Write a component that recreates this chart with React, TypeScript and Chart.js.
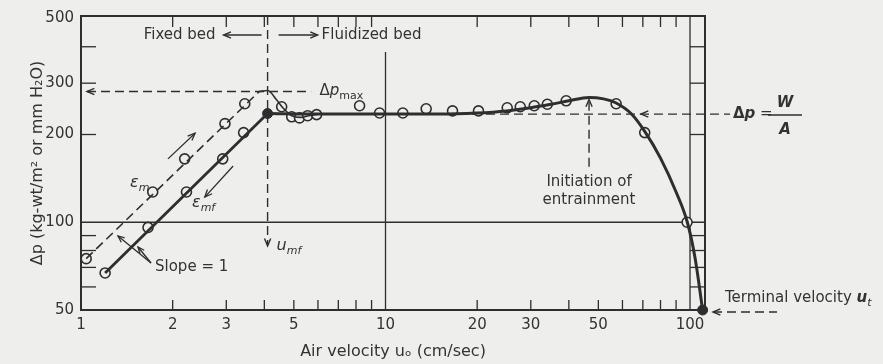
import React, { useEffect, useRef } from "react";
import { Chart, registerables } from "chart.js";
Chart.register(...registerables);

const INK = "#2e2e2e";
const TXT = "#333333";
const BG = "#eeeeec";
const FONT = '"DejaVu Sans", sans-serif';

// ---- data (air velocity u in cm/sec, pressure drop Δp in kg-wt/m²) ----
const emU = [1.04, 1.72, 2.19, 2.97, 3.45];
const emDp = [75, 127, 165, 218, 255];
const emfU = [1.2, 1.66, 2.22, 2.92, 3.42];
const emfDp = [67, 96, 127, 165, 203];
const fluidU = [4.56, 4.92, 5.22, 5.55, 5.94, 8.22, 9.56, 11.4, 13.6, 16.6, 20.2, 25.1, 27.7, 30.8, 34, 39.2, 57.2, 71, 97.8];
const fluidDp = [249, 230, 228, 232, 234, 251, 237, 237, 245, 241, 241, 247, 249, 251, 254, 261, 255, 203, 100];
const filledU = [4.1, 110];
const filledDp = [236, 50];

const emLineU = [1.04, 3.85];
const emLineDp = [75, 281];
const peakCurveU = [3.85, 4.1, 4.4, 4.6, 4.92, 5.25, 5.6, 6.0];
const peakCurveDp = [281, 283, 262, 247, 232, 229, 232, 235];
const riseU = [1.2, 4.1];
const riseDp = [67, 236];
const bedCurveU = [4.1, 6, 10, 15, 20, 25, 30, 35, 40, 46.6, 52, 57, 64, 71, 80, 90, 98, 104, 110];
const bedCurveDp = [236, 235, 235, 235, 237, 241, 247, 254, 261, 268, 265, 257, 236, 205, 166, 127, 100, 75, 50];

const DP_MAX = 281;
const DP_WA = 235;
const U_MF = 4.1;
const U_ENTRAIN = 46.6;

const xTickLabels = [1, 2, 3, 5, 10, 20, 30, 50, 100];
const xMinorTicks = [2, 3, 4, 5, 6, 7, 8, 9, 20, 30, 40, 50, 60, 70, 80, 90];
const yTickLabels = [50, 100, 200, 300, 500];
const yMinorTicks = [60, 70, 80, 90, 200, 300, 400];

const pts = (xs: number[], ys: number[]) => xs.map((x, i) => ({ x, y: ys[i] }));

function seg(ctx: CanvasRenderingContext2D, x1: number, y1: number, x2: number, y2: number) {
  ctx.beginPath();
  ctx.moveTo(x1, y1);
  ctx.lineTo(x2, y2);
  ctx.stroke();
}

function head(ctx: CanvasRenderingContext2D, x: number, y: number, ang: number, size = 8) {
  ctx.save();
  ctx.setLineDash([]);
  ctx.beginPath();
  ctx.moveTo(x - size * Math.cos(ang - 0.4), y - size * Math.sin(ang - 0.4));
  ctx.lineTo(x, y);
  ctx.lineTo(x - size * Math.cos(ang + 0.4), y - size * Math.sin(ang + 0.4));
  ctx.stroke();
  ctx.restore();
}

type Part = { t: string; it?: boolean; sub?: boolean; size?: number; bold?: boolean };
function rich(ctx: CanvasRenderingContext2D, x: number, y: number, parts: Part[], align: "left" | "center" = "left") {
  const fontOf = (p: Part) => `${p.it ? "italic " : ""}${p.bold ? "bold " : ""}${p.size ?? (p.sub ? 11 : 15)}px ${FONT}`;
  let w = 0;
  for (const p of parts) {
    ctx.font = fontOf(p);
    w += ctx.measureText(p.t).width;
  }
  let cx = align === "center" ? x - w / 2 : x;
  ctx.textAlign = "left";
  ctx.textBaseline = "middle";
  for (const p of parts) {
    ctx.font = fontOf(p);
    ctx.fillText(p.t, cx, p.sub ? y + 5 : y);
    cx += ctx.measureText(p.t).width;
  }
}

const decor = {
  id: "decor",
  beforeDraw(chart: any) {
    const ctx = chart.ctx;
    ctx.save();
    ctx.fillStyle = BG;
    ctx.fillRect(0, 0, chart.width, chart.height);
    ctx.restore();
  },
  beforeDatasetsDraw(chart: any) {
    const { ctx, chartArea: a, scales } = chart;
    const X = (v: number) => scales.x.getPixelForValue(v);
    const Y = (v: number) => scales.y.getPixelForValue(v);
    ctx.save();
    ctx.strokeStyle = INK;
    ctx.lineWidth = 1.3;
    // grid lines
    seg(ctx, X(10), a.top + 36, X(10), a.bottom);
    seg(ctx, a.left, Y(100), a.right, Y(100));
    seg(ctx, X(100), a.top, X(100), a.bottom);
    // inner ticks
    for (const v of xMinorTicks) {
      seg(ctx, X(v), a.bottom, X(v), a.bottom - 10);
      seg(ctx, X(v), a.top, X(v), a.top + 11);
    }
    for (const v of yMinorTicks) {
      seg(ctx, a.left, Y(v), a.left + 15, Y(v));
      seg(ctx, X(100), Y(v), a.right, Y(v));
    }
    // frame
    ctx.lineWidth = 2;
    ctx.strokeRect(a.left, a.top, a.right - a.left, a.bottom - a.top);

    // dashed guides
    ctx.lineWidth = 1.4;
    ctx.setLineDash([9, 5]);
    seg(ctx, a.left + 6, Y(DP_MAX), X(5.7), Y(DP_MAX));
    seg(ctx, X(U_MF), a.top, X(U_MF), Y(83));
    seg(ctx, X(14), Y(DP_WA), a.right + 25, Y(DP_WA));
    seg(ctx, X(U_ENTRAIN), Y(155), X(U_ENTRAIN), Y(268) + 2);
    seg(ctx, a.right + 8, Y(50) + 2, a.right + 72, Y(50) + 2);
    ctx.setLineDash([]);
    head(ctx, a.left + 6, Y(DP_MAX), Math.PI);
    head(ctx, X(U_MF), Y(83), Math.PI / 2);
    head(ctx, X(69), Y(DP_WA), Math.PI);
    head(ctx, X(U_ENTRAIN), Y(268) + 2, -Math.PI / 2);
    head(ctx, a.right + 8, Y(50) + 2, Math.PI);

    // fixed / fluidized arrows
    const ty = a.top + 19;
    seg(ctx, X(U_MF) - 6, ty, X(U_MF) - 44, ty);
    head(ctx, X(U_MF) - 44, ty, Math.PI);
    seg(ctx, X(U_MF) + 11, ty, X(U_MF) + 50, ty);
    head(ctx, X(U_MF) + 50, ty, 0);

    // direction arrows along the lines
    ctx.lineWidth = 1.3;
    {
      const x1 = X(1.93), y1 = Y(165), x2 = X(2.37), y2 = Y(202);
      seg(ctx, x1, y1, x2, y2);
      head(ctx, x2, y2, Math.atan2(y2 - y1, x2 - x1));
    }
    {
      const x1 = X(3.16), y1 = Y(156), x2 = X(2.55), y2 = Y(122);
      seg(ctx, x1, y1, x2, y2);
      head(ctx, x2, y2, Math.atan2(y2 - y1, x2 - x1));
    }
    // slope leaders
    {
      const sx = a.left + 70, sy = a.bottom - 47;
      const t1x = a.left + 37, t1y = a.bottom - 74;
      const t2x = a.left + 57, t2y = a.bottom - 63;
      seg(ctx, sx, sy, t1x, t1y);
      head(ctx, t1x, t1y, Math.atan2(t1y - sy, t1x - sx), 7);
      seg(ctx, sx, sy, t2x, t2y);
      head(ctx, t2x, t2y, Math.atan2(t2y - sy, t2x - sx), 7);
    }
    ctx.restore();
  },
  afterDatasetsDraw(chart: any) {
    const { ctx, chartArea: a, scales } = chart;
    const X = (v: number) => scales.x.getPixelForValue(v);
    const Y = (v: number) => scales.y.getPixelForValue(v);
    ctx.save();
    ctx.fillStyle = TXT;
    ctx.strokeStyle = INK;
    const ty = a.top + 19;
    ctx.font = `15px ${FONT}`;
    ctx.textBaseline = "middle";
    ctx.textAlign = "right";
    ctx.fillText("Fixed bed", X(U_MF) - 52, ty);
    ctx.textAlign = "left";
    ctx.fillText("Fluidized bed", X(U_MF) + 54, ty);

    rich(ctx, X(5.8) + 6, Y(DP_MAX), [{ t: "Δ" }, { t: "p", it: true }, { t: "max", sub: true }]);
    rich(ctx, 130, 183, [{ t: "ε", it: true, size: 16 }, { t: "m", it: true, sub: true }]);
    rich(ctx, 192, 203, [{ t: "ε", it: true, size: 16 }, { t: "mf", it: true, sub: true }]);
    rich(ctx, a.left + 74, a.bottom - 43, [{ t: "Slope = 1" }]);
    rich(ctx, X(U_MF) + 9, Y(83), [{ t: "u", it: true, size: 16 }, { t: "mf", it: true, sub: true }]);
    rich(ctx, X(U_ENTRAIN), Y(155) + 15, [{ t: "Initiation of" }], "center");
    rich(ctx, X(U_ENTRAIN), Y(155) + 33, [{ t: "entrainment" }], "center");

    // Δp = W/A
    const wy = Y(DP_WA);
    rich(ctx, a.right + 28, wy, [{ t: "Δ", bold: true }, { t: "p", it: true, bold: true }, { t: " =" }]);
    ctx.lineWidth = 1.5;
    seg(ctx, a.right + 63, wy + 1, a.right + 97, wy + 1);
    rich(ctx, a.right + 80, wy - 11, [{ t: "W", it: true, bold: true, size: 15 }], "center");
    rich(ctx, a.right + 80, wy + 16, [{ t: "A", it: true, bold: true, size: 15 }], "center");

    rich(ctx, a.right + 20, Y(50) - 12, [{ t: "Terminal velocity " }, { t: "u", it: true, bold: true }, { t: "t", it: true, sub: true }]);
    ctx.restore();
  },
};

export default function App() {
  const ref = useRef<HTMLCanvasElement | null>(null);
  useEffect(() => {
    if (!ref.current) return;
    const chart = new Chart(ref.current, {
      type: "scatter",
      data: {
        datasets: [
          { data: pts(emLineU, emLineDp), showLine: true, borderDash: [9, 5], borderWidth: 1.6, borderColor: INK, pointRadius: 0 },
          { data: pts(peakCurveU, peakCurveDp), showLine: true, borderWidth: 1.6, borderColor: INK, pointRadius: 0, cubicInterpolationMode: "monotone" },
          { data: pts(riseU, riseDp), showLine: true, borderWidth: 2.8, borderColor: INK, pointRadius: 0 },
          { data: pts(bedCurveU, bedCurveDp), showLine: true, borderWidth: 3, borderColor: INK, pointRadius: 0, cubicInterpolationMode: "monotone", clip: false },
          { data: [...pts(emU, emDp), ...pts(emfU, emfDp), ...pts(fluidU, fluidDp)], showLine: false, pointRadius: 5, pointBackgroundColor: BG, pointBorderColor: INK, pointBorderWidth: 1.6, clip: false },
          { data: pts(filledU, filledDp), showLine: false, pointRadius: 5, pointBackgroundColor: INK, pointBorderColor: INK, pointBorderWidth: 1, clip: false },
        ] as any,
      },
      options: {
        responsive: false,
        animation: false,
        devicePixelRatio: 1,
        layout: { padding: { left: 0, right: 178, top: 14, bottom: 0 }, autoPadding: false },
        plugins: { legend: { display: false }, tooltip: { enabled: false } },
        events: [],
        scales: {
          x: {
            type: "logarithmic",
            min: 1,
            max: 112,
            grid: { display: false, drawTicks: false },
            border: { display: false },
            afterBuildTicks: (s: any) => { s.ticks = xTickLabels.map((v) => ({ value: v })); },
            afterFit: (s: any) => { s.height = 54; },
            ticks: { autoSkip: false, maxRotation: 0, padding: 6, color: TXT, font: { family: FONT, size: 15 }, callback: (v: any) => String(v) },
            title: { display: true, text: "Air velocity uₒ (cm/sec)", color: TXT, font: { family: FONT, size: 16 }, padding: { top: 0, bottom: 3 } },
          },
          y: {
            type: "logarithmic",
            min: 50,
            max: 510,
            grid: { display: false, drawTicks: false },
            border: { display: false },
            afterBuildTicks: (s: any) => { s.ticks = yTickLabels.map((v) => ({ value: v })); },
            afterFit: (s: any) => { s.width = 81; },
            ticks: { autoSkip: false, padding: 7, color: TXT, font: { family: FONT, size: 15 }, callback: (v: any) => String(v) },
            title: { display: true, text: "Δp (kg-wt/m² or mm H₂O)", color: TXT, font: { family: FONT, size: 16 }, padding: { top: 28, bottom: 0 } },
          },
        },
      } as any,
      plugins: [decor],
    });
    return () => chart.destroy();
  }, []);
  return (
    <div style={{ position: "fixed", left: 0, top: 0, width: 883, height: 364 }}>
      <canvas ref={ref} width={883} height={364} style={{ display: "block" }} />
    </div>
  );
}
